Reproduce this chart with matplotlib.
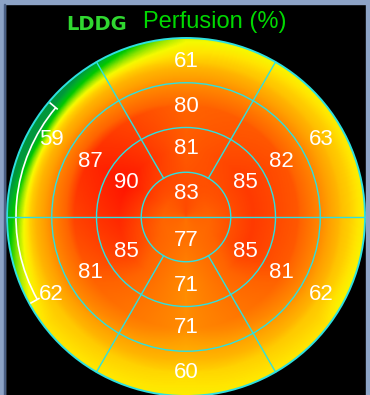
import numpy as np
import matplotlib
matplotlib.use('Agg')
import matplotlib.pyplot as plt
from matplotlib.colors import LinearSegmentedColormap
from matplotlib.patches import Circle, Rectangle, Arc

# segment values per ring, at the segment centre angles (deg, counter-clockwise from 3 o'clock)
seg_angles = [90, 150, 210, 270, 330, 30]
apex_angles = [90, 270]
apex_vals = [83, 77]
inner_vals = [81, 90, 85, 71, 85, 85]
middle_vals = [80, 87, 81, 71, 81, 82]
outer_vals = [61, 59, 62, 60, 62, 63]

title_left = "LDDG"
title_right = "Perfusion (%)"

# layout in pixels
CX, CY, R = 186, 217, 179
U = R / 4.0          # one ring width

fig = plt.figure(figsize=(3.70, 3.95), dpi=100, facecolor="black")
ax = fig.add_axes([0, 0, 1, 1])
ax.set_xlim(0, 370)
ax.set_ylim(395, 0)
ax.set_facecolor("black")
ax.axis("off")


def profile(vals, angles, th):
    a = np.array(angles, float)
    v = np.array(vals, float)
    o = np.argsort(a)
    return np.interp(th % 360, a[o], v[o], period=360)


# smooth field between the segment values
N = 400
xs = np.linspace(-4, 4, N)
ys = np.linspace(4, -4, N)
gx, gy = np.meshgrid(xs, ys)
rr = np.hypot(gx, gy)
th = np.degrees(np.arctan2(gy, gx))
V = np.stack([profile(apex_vals, apex_angles, th),
              profile(inner_vals, seg_angles, th),
              profile(middle_vals, seg_angles, th),
              profile(outer_vals, seg_angles, th)])
rc = np.clip(rr, 0.5, 3.5) - 0.5
idx = np.clip(np.floor(rc).astype(int), 0, 2)
frac = rc - idx
lo = np.take_along_axis(V, idx[None], 0)[0]
hi = np.take_along_axis(V, idx[None] + 1, 0)[0]
field = lo * (1 - frac) + hi * frac
# fall-off towards the rim, steeper where the outer ring drops most
d = V[2] - V[3]
slope = 0.3 * d + 3.8 * np.clip(d - 18, 0, None)
field = np.where(rr > 3.5, V[3] - slope * (rr - 3.5), field)

vmin, vmax = 44, 95
anchors = [(44, "#00963c"), (47, "#00af28"), (50, "#00c800"), (54, "#96e600"),
           (57, "#f5fa00"), (59, "#ffe600"), (61, "#ffcd00"), (64, "#ffb400"),
           (68, "#ffa000"), (72, "#ff8700"), (80, "#ff6400"), (86, "#ff3200"),
           (90, "#ff1400"), (95, "#f00000")]
cmap = LinearSegmentedColormap.from_list(
    "perf", [((v - vmin) / (vmax - vmin), c) for v, c in anchors])

im = ax.imshow(field, cmap=cmap, vmin=vmin, vmax=vmax, origin="upper",
               extent=[CX - R, CX + R, CY + R, CY - R], interpolation="bilinear")
clip = Circle((CX, CY), R, transform=ax.transData)
im.set_clip_path(clip)

# grid of the bullseye
line_c = "#2ee0e0"
for k in range(1, 5):
    ax.add_patch(Circle((CX, CY), k * U, fill=False, ec=line_c,
                        lw=1.4 if k == 4 else 1.0))
ax.plot([CX - R, CX + R], [CY, CY], color=line_c, lw=1.0)
for a in [60, 120, 240, 300]:
    t = np.radians(a)
    ax.plot([CX + U * np.cos(t), CX + R * np.cos(t)],
            [CY - U * np.sin(t), CY - R * np.sin(t)], color=line_c, lw=1.0)

# labels
fam = ["Liberation Sans", "DejaVu Sans"]
rings = [(0.52, apex_angles, apex_vals), (1.54, seg_angles, inner_vals),
         (2.47, seg_angles, middle_vals), (3.48, seg_angles, outer_vals)]
for rad, angs, vals in rings:
    for a, v in zip(angs, vals):
        t = np.radians(a)
        ax.text(CX + rad * U * np.cos(t), CY - rad * U * np.sin(t), str(v),
                color="white", fontsize=16, ha="center", va="center", family=fam)

# white arc on the left
ra = 3.8 * U
ax.add_patch(Arc((CX, CY), 2 * ra, 2 * ra, theta1=151, theta2=220,
                 color="white", lw=1.2))
for a in [140, 209]:
    t = np.radians(a)
    ax.plot([CX + 3.76 * U * np.cos(t), CX + 3.96 * U * np.cos(t)],
            [CY - 3.76 * U * np.sin(t), CY - 3.96 * U * np.sin(t)],
            color="white", lw=1.2)

# titles
ax.text(97, 25, title_left, color="#30d830", fontsize=14, fontweight="bold",
        ha="center", va="center", family="DejaVu Sans")
ax.text(215, 22, title_right, color="#00d800", fontsize=17, ha="center",
        va="center", family="Liberation Sans")

# window frame
ax.add_patch(Rectangle((0, 0), 5, 395, color="#8da3c6", zorder=5))
ax.add_patch(Rectangle((4, 4), 1, 391, color="#4a5f84", zorder=6))
ax.add_patch(Rectangle((0, 0), 370, 4, color="#8da3c6", zorder=5))
ax.add_patch(Rectangle((366, 0), 4, 395, color="#8da3c6", zorder=5))

fig.savefig("out.png", dpi=100, facecolor="black")
